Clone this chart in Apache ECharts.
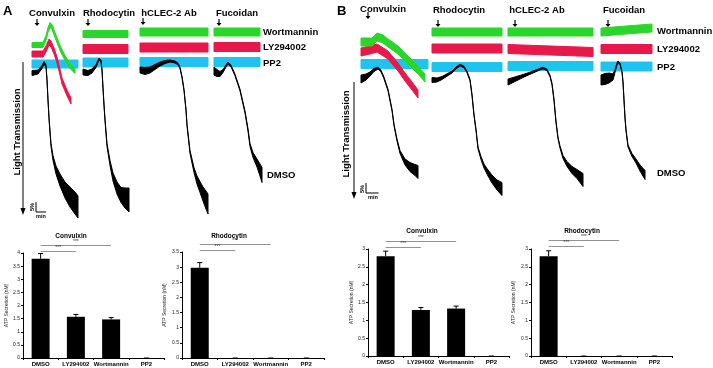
<!DOCTYPE html>
<html>
<head>
<meta charset="utf-8">
<script src="https://cdn.jsdelivr.net/npm/echarts@6/dist/echarts.min.js"></script>
<style>html,body{margin:0;padding:0;background:#fff}#chart{width:713px;height:368px}</style>
</head>
<body>
<div id="chart"></div>
<script>
// aggregation traces: [time (min), middle of trace (% light transmission, grows downwards), width of noise band (%)]
// panel A
const A_CVX_WORT = [[0,12.5,2.5],[1.1,12.5,2.5],[1.4,9,2.5],[1.6,5,2.5],[1.8,2.5,2.5],[2.0,3.5,2.5],[2.3,7.5,2.5],[2.8,14,2.5],[3.3,19,2.5],[3.8,23,2.5],[4.3,25.5,2.5]];
const A_CVX_LY = [[0,17,3],[1.1,17,3],[1.4,14.5,3],[1.7,11,3],[1.9,12,3],[2.2,15.5,3],[2.5,20,3],[2.8,26,3],[3.0,30.5,3],[3.5,36.5,3],[3.9,40.5,3]];
const A_CVX_PP2 = [[0,22,4],[4.6,22,4]];
const A_CVX_DMSO = [[0,26.5,2.5],[0.6,26,2],[1.0,23.5,1.5],[1.2,21.5,1.5],[1.4,23,1],[1.5,30,0.8],[1.6,40,0.8],[1.7,49,0.8],[1.8,56,1],[1.9,62.5,1.5],[2.1,69,2.5],[2.4,75,4],[2.8,80,6],[3.3,85,8],[3.8,88.5,10],[4.3,91.5,11],[4.6,93.5,11]];

const A_RHO_WORT = [[0,7,3.5],[4.5,7,3.5]];
const A_RHO_LY = [[0,14.5,4.5],[4.5,14.5,4.5]];
const A_RHO_PP2 = [[0,21.25,4.5],[4.5,21.25,4.5]];
const A_RHO_DMSO = [[0,26,3],[0.5,26.5,2.5],[0.9,25.5,2],[1.3,23,1.5],[1.6,19.5,1],[1.8,20.5,1],[1.9,25,0.8],[2.0,34,0.8],[2.1,42.5,0.8],[2.2,50,0.8],[2.4,62.5,1.5],[2.7,71.5,2.5],[3.0,78.5,4],[3.4,84,6],[3.8,87.5,7.5],[4.2,89,10],[4.6,90,12]];

const A_HCL_WORT = [[0,6,4],[6.8,6,4]];
const A_HCL_LY = [[0,13.75,4.5],[6.8,13.75,4.5]];
const A_HCL_PP2 = [[0,21,4.5],[6.8,21,4.5]];
const A_HCL_DMSO = [[0,25,3],[0.5,25.5,3.5],[1.0,25,3],[1.5,23.5,2.5],[2.0,22,2],[2.5,21,1.5],[3.0,20.5,1],[3.5,21,1],[3.8,22,0.8],[4.0,24,0.8],[4.2,28.5,0.8],[4.4,35,0.8],[4.5,40,0.8],[4.6,45,0.8],[4.7,52.5,0.8],[5.0,66,1.5],[5.4,75,2.5],[5.7,80,4],[6.0,83.5,5.5],[6.3,87,7],[6.6,90,9],[6.8,92,10]];

const A_FUC_WORT = [[0,6,4],[4.6,6,4]];
const A_FUC_LY = [[0,13.5,4.5],[4.6,13.5,4.5]];
const A_FUC_PP2 = [[0,21,4.5],[4.6,21,4.5]];
const A_FUC_DMSO = [[0,25.5,4],[0.3,26.5,3.5],[0.6,27,2.5],[0.9,25.5,1.5],[1.2,23,1],[1.4,21.5,1],[1.7,23,0.8],[2.1,27.5,0.8],[2.6,35,0.8],[3.1,46,1],[3.4,55,1.2],[3.6,62.5,1.5],[3.9,67.5,2.5],[4.3,71.5,4],[4.6,75,6],[4.8,77.5,7.5]];

// panel B
const B_CVX_WORT = [[0,11,4],[0.88,11,4],[1.28,8.5,4],[1.76,9.5,4],[2.16,11.5,4],[2.96,15,4],[3.76,20,4],[4.56,25,4],[5.12,29,4]];
const B_CVX_LY = [[0,16,4],[0.72,15,4],[1.28,14,4],[2.16,17.5,4],[2.96,23.5,4],[3.52,28.5,4],[4.08,33,4],[4.56,37,4]];
const B_CVX_PP2 = [[0,22,4.5],[5.36,22,4.5]];
const B_CVX_DMSO = [[0,29.5,4],[0.4,28.5,3],[0.72,27,2],[1.04,25,1.5],[1.36,24,1],[1.6,25.5,0.8],[1.84,29,0.8],[2.16,35,0.8],[2.48,45,0.8],[2.64,52.5,0.8],[2.88,60,1],[3.12,66,1.5],[3.52,71,3],[3.92,73.5,4.5],[4.32,75,5.5],[4.56,76,6.5]];

const B_RHO_WORT = [[0,6,4],[5.6,6,4]];
const B_RHO_LY = [[0,14.25,4.5],[5.6,14.25,4.5]];
const B_RHO_PP2 = [[0,23.5,4.5],[5.6,23.5,4.5]];
const B_RHO_DMSO = [[0,30,2.5],[0.4,30,2],[0.8,29,1.5],[1.2,27.5,1.2],[1.6,26,1],[1.92,24,1],[2.24,22.5,0.8],[2.56,23.5,0.8],[2.8,26,0.8],[3.04,30,0.8],[3.2,37.5,0.8],[3.36,47.5,0.8],[3.52,55,0.8],[3.68,64,1],[3.92,69,1.5],[4.16,73,2],[4.48,76.5,3],[4.8,79.5,4],[5.2,82.5,5],[5.6,84.5,6.5]];

const B_HCL_WORT = [[0,6,4],[6.8,6,4]];
const B_HCL_LY = [[0,14.5,4.5],[6.8,16,4.5]];
const B_HCL_PP2 = [[0,23,4.5],[6.8,23,4.5]];
const B_HCL_DMSO = [[0,31,3],[0.4,30,2.5],[0.8,29,2],[1.2,28,1.5],[1.6,27,1.2],[2.0,26,1],[2.4,25,0.8],[2.8,24,0.8],[3.12,25,0.8],[3.36,28,0.8],[3.52,32,0.8],[3.68,40,0.8],[3.84,51,0.8],[4.0,59,0.8],[4.16,63.5,1],[4.4,68.5,1.5],[4.72,72,2.5],[5.12,75,3.5],[5.52,77,4.5],[6.0,80,6.5]];

const B_FUC_WORT = [[0,6,4],[4.08,4,4]];
const B_FUC_LY = [[0,14.5,4.5],[4.08,14.5,4.5]];
const B_FUC_PP2 = [[0,23.25,4.5],[4.08,23.25,4.5]];
const B_FUC_DMSO = [[0,30,5],[0.32,29.5,5.5],[0.64,29,5],[0.96,28.5,3],[1.12,25.5,1.5],[1.28,22,1],[1.36,21,1],[1.52,22,0.8],[1.68,26,0.8],[1.76,31,0.8],[1.84,40,0.8],[1.92,49,0.8],[2.0,55,0.8],[2.16,63,1],[2.48,67.5,1.5],[2.8,70.5,2],[3.12,74,3],[3.52,77.5,4.5]];

// scale bar size
const SCALE_PCT = 5;
const SCALE_MIN = 1;

// ATP secretion bars
const GROUPS = ['DMSO', 'LY294002', 'Wortmannin', 'PP2'];
const A_CVX_ATP = [3.78, 1.57, 1.47, 0];
const A_CVX_ERR = [0.2, 0.09, 0.07, 0];
const A_RHO_ATP = [2.98, 0, 0, 0];
const A_RHO_ERR = [0.17, 0, 0, 0];
const B_CVX_ATP = [2.8, 1.29, 1.33, 0];
const B_CVX_ERR = [0.14, 0.07, 0.07, 0];
const B_RHO_ATP = [2.8, 0, 0, 0];
const B_RHO_ERR = [0.15, 0, 0, 0];
// significance brackets: [from, to, label], lower one first
const SIG = [['DMSO', 'LY294002', '***'], ['DMSO', 'Wortmannin', '***']];

const FONT = '"Liberation Sans", Arial, sans-serif';
const COLORS = ['#2bd62b', '#e6194a', '#1ec4ef', '#000000']; // wortmannin, LY294002, PP2, DMSO

const tracePanels = [
    { left: 32, width: 46, tMax: 4.6, traces: [A_CVX_WORT, A_CVX_LY, A_CVX_PP2, A_CVX_DMSO], scale: [0.4, 96] },
    { left: 83, width: 46, tMax: 4.6, traces: [A_RHO_WORT, A_RHO_LY, A_RHO_PP2, A_RHO_DMSO] },
    { left: 140, width: 68, tMax: 6.8, traces: [A_HCL_WORT, A_HCL_LY, A_HCL_PP2, A_HCL_DMSO] },
    { left: 214, width: 48, tMax: 4.8, traces: [A_FUC_WORT, A_FUC_LY, A_FUC_PP2, A_FUC_DMSO] },
    { left: 361, width: 67, tMax: 5.36, traces: [B_CVX_WORT, B_CVX_LY, B_CVX_PP2, B_CVX_DMSO], scale: [0.4, 86.5] },
    { left: 432, width: 70, tMax: 5.6, traces: [B_RHO_WORT, B_RHO_LY, B_RHO_PP2, B_RHO_DMSO] },
    { left: 508, width: 85, tMax: 6.8, traces: [B_HCL_WORT, B_HCL_LY, B_HCL_PP2, B_HCL_DMSO] },
    { left: 601, width: 51, tMax: 4.08, traces: [B_FUC_WORT, B_FUC_LY, B_FUC_PP2, B_FUC_DMSO] }
];

const barPanels = [
    { left: 23, width: 141, top: 253, height: 105, yMax: 4, nameGap: 14, values: A_CVX_ATP, errs: A_CVX_ERR, sigTop: 239 },
    { left: 182, width: 142, top: 252, height: 106, yMax: 3.5, nameGap: 15, values: A_RHO_ATP, errs: A_RHO_ERR, sigTop: 238 },
    { left: 368, width: 141, top: 249, height: 107, yMax: 3, nameGap: 11, values: B_CVX_ATP, errs: B_CVX_ERR, sigTop: 235 },
    { left: 531, width: 141, top: 249, height: 107, yMax: 3, nameGap: 15, values: B_RHO_ATP, errs: B_RHO_ERR, sigTop: 234 }
];

let [grids, xAxes, yAxes, series] = [[], [], [], []];

// noisy trace drawn as a band between its lower and upper envelope
function bandSeries(trace, color, idx) {
    return {
        type: 'custom',
        xAxisIndex: idx,
        yAxisIndex: idx,
        silent: true,
        data: [[trace[0][0], trace[0][1]]],
        renderItem(params, api) {
            const upper = trace.map(p => api.coord([p[0], p[1] - p[2] / 2]));
            const lower = trace.slice().reverse().map(p => api.coord([p[0], p[1] + p[2] / 2]));
            return {
                type: 'polygon',
                shape: { points: upper.concat(lower) },
                style: { fill: color, stroke: color, lineWidth: 1, lineJoin: 'round' }
            };
        }
    };
}

tracePanels.forEach(function(p) {
    const idx = grids.length;
    grids.push({ left: p.left, top: 20, width: p.width, height: 200, containLabel: false, outerBoundsMode: 'none' });
    xAxes.push({ type: 'value', gridIndex: idx, min: 0, max: p.tMax, show: false });
    yAxes.push({ type: 'value', gridIndex: idx, min: 0, max: 100, inverse: true, show: false });
    // PP2 first, DMSO last on top
    [2, 1, 0, 3].forEach(k => series.push(bandSeries(p.traces[k], COLORS[k], idx)));
    if (p.scale) {
        const [t0, v0] = p.scale;
        series.push({
            type: 'line', xAxisIndex: idx, yAxisIndex: idx, silent: true, symbol: 'none',
            lineStyle: { color: '#000', width: 1 },
            data: [[t0, v0 - SCALE_PCT], [t0, v0], [t0 + SCALE_MIN, v0]]
        });
    }
});

barPanels.forEach(function(p) {
    const idx = grids.length;
    grids.push({ left: p.left, top: p.top, width: p.width, height: p.height, containLabel: false, outerBoundsMode: 'none' });
    xAxes.push({
        type: 'category', gridIndex: idx, data: GROUPS,
        axisLine: { lineStyle: { color: '#000', width: 1 } },
        axisTick: { show: true, length: 2, lineStyle: { color: '#000' } },
        axisLabel: { interval: 0, hideOverlap: false, fontSize: 6, fontWeight: 'bold', color: '#000', margin: 3, fontFamily: FONT }
    });
    yAxes.push({
        type: 'value', gridIndex: idx, min: 0, max: p.yMax, interval: 0.5,
        name: 'ATP Secretion (nM)', nameLocation: 'middle', nameGap: p.nameGap,
        nameTextStyle: { fontSize: 5, color: '#222', fontFamily: FONT },
        axisLine: { show: true, lineStyle: { color: '#000', width: 1 } },
        axisTick: { show: true, length: 2, lineStyle: { color: '#000' } },
        axisLabel: { fontSize: 5, color: '#222', margin: 3, fontFamily: FONT },
        splitLine: { show: false }
    });
    series.push({
        type: 'bar', xAxisIndex: idx, yAxisIndex: idx, silent: true,
        barWidth: 18, itemStyle: { color: '#000' },
        data: p.values
    });
    series.push({
        type: 'custom', xAxisIndex: idx, yAxisIndex: idx, silent: true,
        data: p.values.map((v, i) => [i, v, p.errs[i]]),
        renderItem(params, api) {
            const base = api.coord([api.value(0), api.value(1)]);
            const top = api.coord([api.value(0), api.value(1) + api.value(2)]);
            const st = { stroke: '#000', lineWidth: 1 };
            return {
                type: 'group',
                children: [
                    { type: 'line', shape: { x1: base[0], y1: base[1], x2: top[0], y2: top[1] }, style: st },
                    { type: 'line', shape: { x1: top[0] - 2.5, y1: top[1], x2: top[0] + 2.5, y2: top[1] }, style: st }
                ]
            };
        }
    });

    // significance brackets above the bars
    const sIdx = grids.length;
    grids.push({ left: p.left, top: p.sigTop, width: p.width, height: 18, containLabel: false, outerBoundsMode: 'none' });
    xAxes.push({ type: 'category', gridIndex: sIdx, data: GROUPS, show: false });
    yAxes.push({ type: 'value', gridIndex: sIdx, min: 0, max: 3, show: false });
    series.push({
        type: 'line', xAxisIndex: sIdx, yAxisIndex: sIdx, silent: true, data: [],
        markLine: {
            silent: true, symbol: ['none', 'none'], animation: false,
            lineStyle: { color: '#777', width: 0.8, type: 'solid' },
            label: { show: true, position: 'middle', fontSize: 5, color: '#333', distance: 0.5, fontFamily: FONT },
            data: SIG.map((s, k) => [
                { coord: [GROUPS.indexOf(s[0]), k + 1], label: { formatter: s[2] } },
                { coord: [GROUPS.indexOf(s[1]), k + 1] }
            ])
        }
    });
});

// free text
function txt(text, x, y, size, opts) {
    return Object.assign({
        type: 'text', x: x, y: y, silent: true,
        style: {
            text: text, font: 'bold ' + size + 'px ' + FONT, fill: '#000',
            textAlign: (opts && opts.align) || 'center', textVerticalAlign: 'middle'
        }
    }, opts && opts.rotation ? { rotation: opts.rotation } : {});
}

const graphic = [
    txt('A', 3, 11, 13, { align: 'left' }),
    txt('B', 337, 11, 13, { align: 'left' }),
    txt('Convulxin', 52, 13, 9.5), txt('Rhodocytin', 109, 13, 9.5),
    txt('hCLEC-2 Ab', 169, 13, 9.5), txt('Fucoidan', 237, 13, 9.5),
    txt('Convulxin', 383, 9, 9.5), txt('Rhodocytin', 459, 10, 9.5),
    txt('hCLEC-2 Ab', 537, 10, 9.5), txt('Fucoidan', 624, 10, 9.5),
    txt('Wortmannin', 263, 32, 9.5, { align: 'left' }), txt('LY294002', 263, 47, 9.5, { align: 'left' }),
    txt('PP2', 263, 63, 9.5, { align: 'left' }), txt('DMSO', 267, 175, 9.5, { align: 'left' }),
    txt('Wortmannin', 657, 31, 9.5, { align: 'left' }), txt('LY294002', 657, 49, 9.5, { align: 'left' }),
    txt('PP2', 657, 67, 9.5, { align: 'left' }), txt('DMSO', 657, 173, 9.5, { align: 'left' }),
    txt('Light Transmission', 17, 132, 9.5, { rotation: Math.PI / 2 }),
    txt('Light Transmission', 346, 134, 9.5, { rotation: Math.PI / 2 }),
    txt('5%', 32, 207, 5.5, { rotation: Math.PI / 2 }),
    txt('min', 41, 216, 5.5),
    txt('5%', 362, 189, 5.5, { rotation: Math.PI / 2 }),
    txt('min', 373, 197, 5.5),
    txt('Convulxin', 71, 236, 6.5), txt('Rhodocytin', 229, 236, 6.5),
    txt('Convulxin', 422, 231, 6.5), txt('Rhodocytin', 582, 231, 6.5)
];

// agonist addition markers
[[37, 23], [88, 23], [143, 22], [219, 23], [368, 16], [438, 24], [515, 24], [608, 24]].forEach(function(pt) {
    graphic.push({ type: 'line', silent: true, shape: { x1: pt[0], y1: pt[1] - 4, x2: pt[0], y2: pt[1] + 2 }, style: { stroke: '#000', lineWidth: 1.2 } });
    graphic.push({ type: 'polygon', silent: true, shape: { points: [[pt[0] - 2.5, pt[1]], [pt[0] + 2.5, pt[1]], [pt[0], pt[1] + 3]] }, style: { fill: '#000' } });
});

// light transmission arrows
[[23, 62, 212], [354, 82, 196]].forEach(function(a) {
    graphic.push({ type: 'line', silent: true, shape: { x1: a[0], y1: a[1], x2: a[0], y2: a[2] }, style: { stroke: '#000', lineWidth: 1 } });
    graphic.push({ type: 'polygon', silent: true, shape: { points: [[a[0] - 2.5, a[2] - 4], [a[0] + 2.5, a[2] - 4], [a[0], a[2] + 3]] }, style: { fill: '#000' } });
});

const chart = echarts.init(document.getElementById('chart'), null, { renderer: 'canvas' });
chart.setOption({
    backgroundColor: '#fff',
    animation: false,
    grid: grids,
    xAxis: xAxes,
    yAxis: yAxes,
    series: series,
    graphic: graphic
});
</script>
</body>
</html>
